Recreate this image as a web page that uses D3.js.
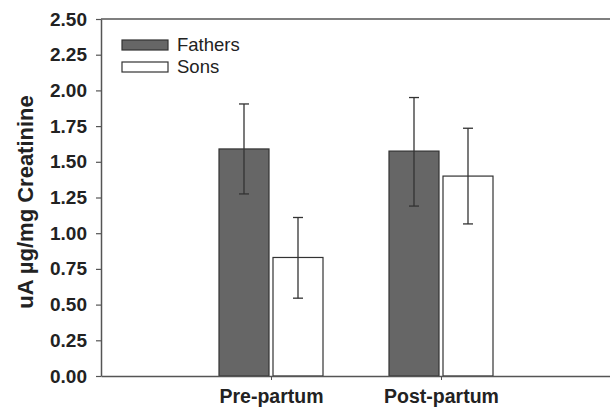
<!DOCTYPE html>
<html>
<head>
<meta charset="utf-8">
<script src="https://cdn.jsdelivr.net/npm/d3@7"></script>
<style>
  body { margin: 0; background: #fff; }
  svg { display: block; font-family: "Liberation Sans", Arial, sans-serif; }
</style>
</head>
<body>
<svg id="chart" width="610" height="409"></svg>
<script>
'use strict';

// data
var categories  = ["Pre-partum", "Post-partum"];
var seriesNames = ["Fathers", "Sons"];
var fathers     = [1.59, 1.575];
var sons        = [0.83, 1.40];
var fathersLow  = [1.275, 1.19];
var fathersHigh = [1.905, 1.95];
var sonsLow     = [0.545, 1.065];
var sonsHigh    = [1.11, 1.735];
var yTicks      = [0, 0.25, 0.5, 0.75, 1.0, 1.25, 1.5, 1.75, 2.0, 2.25, 2.5];

var series = [
    { name: seriesNames[0], values: fathers, low: fathersLow, high: fathersHigh, fill: "#666666" },
    { name: seriesNames[1], values: sons,    low: sonsLow,    high: sonsHigh,    fill: "#ffffff" }
];

var margin = { top: 19, left: 101, bottom: 33, right: 0 };
var width  = 610;
var height = 409;

var svg = d3.select("#chart");

// category positions sit at 1 and 2 of a 0..3 axis
var x = d3.scaleLinear().domain([0, 3]).range([margin.left, 611]);
var y = d3.scaleLinear().domain([0, 2.5]).range([height - margin.bottom, margin.top]);

var barW = 50, gap = 4;
var offsets = [-(barW + gap / 2), gap / 2];

/*========== bars ==========*/
series.forEach(function (s, si) {
    svg.append("g").selectAll("rect")
        .data(s.values)
        .enter().append("rect")
            .attr("x", function (d, i) { return x(i + 1) + offsets[si]; })
            .attr("y", function (d) { return y(d); })
            .attr("width", barW)
            .attr("height", function (d) { return y(0) - y(d); })
            .attr("fill", s.fill)
            .attr("stroke", "#333")
            .attr("stroke-width", 1.2);
});

/*========== error bars ==========*/
series.forEach(function (s, si) {
    var g = svg.append("g").attr("stroke", "#333").attr("stroke-width", 1.3);
    s.values.forEach(function (d, i) {
        var cx = x(i + 1) + offsets[si] + barW / 2;
        g.append("line")
            .attr("x1", cx).attr("x2", cx)
            .attr("y1", y(s.low[i])).attr("y2", y(s.high[i]));
        [s.low[i], s.high[i]].forEach(function (v) {
            g.append("line")
                .attr("x1", cx - 5).attr("x2", cx + 5)
                .attr("y1", y(v)).attr("y2", y(v));
        });
    });
});

/*========== axes ==========*/
var yAxis = svg.append("g")
    .attr("transform", "translate(" + margin.left + ",0)")
    .call(d3.axisLeft(y).tickValues(yTicks).tickFormat(d3.format(".2f")).tickSizeInner(5).tickSizeOuter(0).tickPadding(9));
yAxis.select(".domain").attr("stroke", "#555").attr("stroke-width", 1.5);
yAxis.selectAll(".tick line").attr("stroke", "#555").attr("stroke-width", 1.2);
yAxis.selectAll(".tick text")
    .attr("fill", "#222")
    .style("font-size", "19px")
    .style("font-weight", "bold");

var xAxis = svg.append("g")
    .attr("transform", "translate(0," + y(0) + ")")
    .call(d3.axisBottom(x).tickValues([1, 2]).tickFormat(function (d) { return categories[d - 1]; })
        .tickSizeInner(4).tickSizeOuter(0).tickPadding(9));
xAxis.select(".domain").attr("stroke", "#555").attr("stroke-width", 1.5);
xAxis.selectAll(".tick line").attr("stroke", "#555");
xAxis.selectAll(".tick text")
    .attr("fill", "#222")
    .style("font-size", "19.5px")
    .style("font-weight", "bold");

// top frame line
svg.append("line")
    .attr("x1", margin.left).attr("x2", width)
    .attr("y1", y(2.5)).attr("y2", y(2.5))
    .attr("stroke", "#555").attr("stroke-width", 1.5);

/*========== axis title ==========*/
svg.append("text")
    .attr("transform", "translate(33,202) rotate(-90)")
    .attr("text-anchor", "middle")
    .attr("fill", "#222")
    .style("font-size", "22px")
    .style("font-weight", "bold")
    .text("uA \u00b5g/mg Creatinine");

/*========== legend ==========*/
var legend = svg.append("g").attr("transform", "translate(122,40)");
series.forEach(function (s, i) {
    var row = legend.append("g").attr("transform", "translate(0," + (i * 22) + ")");
    row.append("rect")
        .attr("width", 46).attr("height", 10)
        .attr("fill", s.fill)
        .attr("stroke", "#333").attr("stroke-width", 1.2);
    row.append("text")
        .attr("x", 55).attr("y", 11)
        .attr("fill", "#222")
        .style("font-size", "18.5px")
        .text(s.name);
});
</script>
</body>
</html>
